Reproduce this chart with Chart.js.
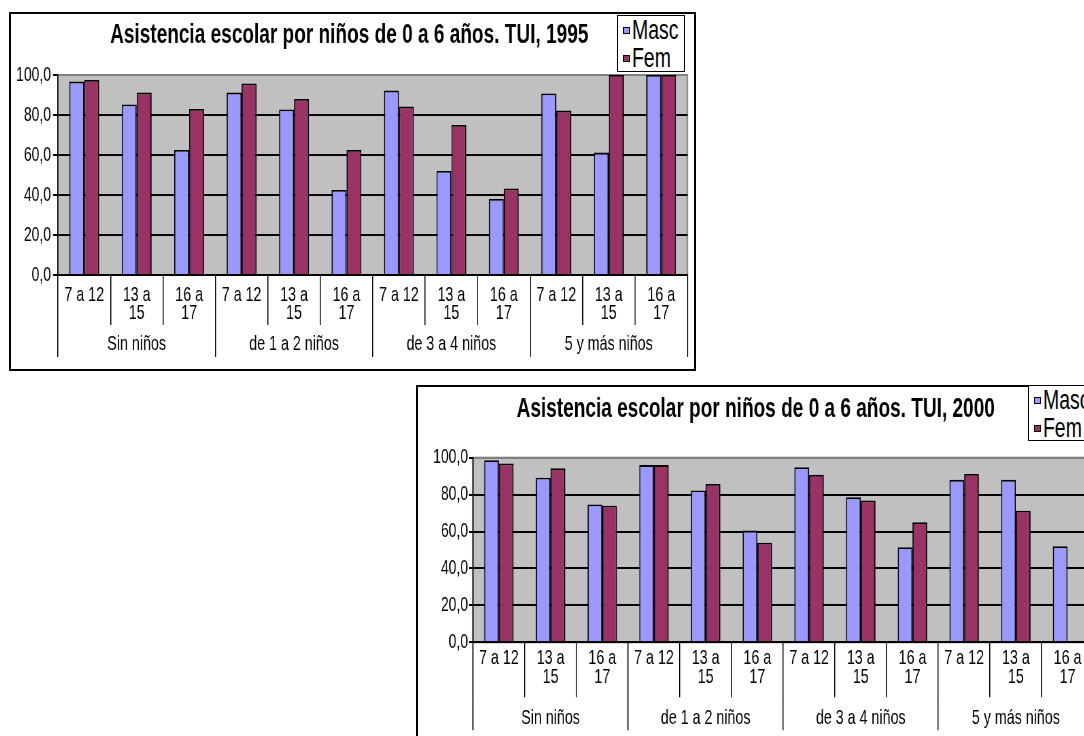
<!DOCTYPE html>
<html>
<head>
<meta charset="utf-8">
<script src="https://cdn.jsdelivr.net/npm/chart.js@4"></script>
<style>
  body { margin: 0; background: #fff; overflow: hidden; width: 1084px; height: 736px; position: relative; }
  .box { position: absolute; border: 2px solid #000; background: #fff; overflow: hidden; }
  .box canvas { display: block; transform: scaleX(0.68); transform-origin: 0 0; }
  .legend { position: absolute; border: 1.5px solid #000; background: #fff; overflow: hidden;
            font-family: 'Liberation Sans', Arial, sans-serif; font-size: 27px; color: #000; }
  .legend div { height: 28px; line-height: 28px; display: flex; align-items: center; padding-left: 5px; white-space: nowrap; }
  .legend span.sw { display: inline-block; flex: none; width: 5px; height: 5px; border: 1.2px solid #000; margin-right: 2px; }
  .legend span.tx { display: inline-block; transform: scaleX(0.72); transform-origin: 0 50%; }
</style>
</head>
<body>
<div class="box" style="left:9px; top:12px; width:683px; height:355px;"><canvas id="c1995" width="1005" height="355"></canvas></div>
<div class="legend" style="left:617px; top:15px; width:66px; height:55px;">
  <div><span class="sw" style="background:#9999FF"></span><span class="tx">Masc</span></div>
  <div><span class="sw" style="background:#993366"></span><span class="tx">Fem</span></div>
</div>

<div class="box" style="left:416px; top:385px; width:683px; height:365px;"><canvas id="c2000" width="1005" height="365"></canvas></div>
<div class="legend" style="left:1028px; top:385px; width:80px; height:54px;">
  <div><span class="sw" style="background:#9999FF"></span><span class="tx">Masc</span></div>
  <div><span class="sw" style="background:#993366"></span><span class="tx">Fem</span></div>
</div>

<script>
// categories
const ageLabels = [
  '7 a 12', ['13 a', '15'], ['16 a', '17'],
  '7 a 12', ['13 a', '15'], ['16 a', '17'],
  '7 a 12', ['13 a', '15'], ['16 a', '17'],
  '7 a 12', ['13 a', '15'], ['16 a', '17']
];
const groupLabels = ['Sin niños', 'de 1 a 2 niños', 'de 3 a 4 niños', '5 y más niños'];
const groupLabels2000 = ['Sin niños', 'de 1 a 2 niños', 'de 3 a 4 niños', '5 y más niños'];
const yTicks = [0, 20, 40, 60, 80, 100];

// 1995
const masc1995 = [96.7, 85.3, 62.5, 91.2, 82.8, 42.5, 92.2, 52.0, 38.0, 90.8, 61.2, 100.0];
const fem1995  = [97.5, 91.2, 83.0, 95.8, 88.0, 62.5, 84.2, 75.0, 43.3, 82.2, 100.0, 100.0];

// 2000
const masc2000 = [98.6, 89.2, 74.7, 96.0, 82.2, 60.5, 94.8, 78.6, 51.5, 88.0, 88.0, 52.0];
const fem2000  = [96.9, 94.3, 74.0, 96.0, 85.8, 53.9, 90.7, 76.8, 65.0, 91.2, 71.3, null];

// canvas is squeezed horizontally with CSS to get narrow text
const SX = 0.68;
const FONT = "'Liberation Sans', Arial, sans-serif";
Chart.defaults.color = '#000';
Chart.defaults.font.family = FONT;

// gray plot background + frame
const plotBg = {
  id: 'plotBg',
  beforeDraw(chart) {
    const { ctx, chartArea: a } = chart;
    ctx.save();
    ctx.fillStyle = '#C0C0C0';
    ctx.fillRect(a.left, a.top, a.right - a.left, a.bottom - a.top);
    ctx.strokeStyle = '#808080';
    ctx.lineWidth = 2;
    ctx.strokeRect(a.left, a.top, a.right - a.left, a.bottom - a.top);
    ctx.restore();
  }
};

function makeChart(id, title, masc, fem, groups, g) {
  return new Chart(document.getElementById(id), {
    type: 'bar',
    data: {
      labels: ageLabels,
      datasets: [
        { label: 'Masc', data: masc, backgroundColor: '#9999FF', borderColor: '#000', borderWidth: 1.8 },
        { label: 'Fem', data: fem, backgroundColor: '#993366', borderColor: '#000', borderWidth: 1.8 }
      ]
    },
    options: {
      responsive: false,
      animation: false,
      categoryPercentage: 0.57,
      barPercentage: 1.0,
      layout: { padding: { left: 0, right: g.padRight / SX, top: 0, bottom: g.padBottom } },
      plugins: {
        legend: { display: false },
        tooltip: { enabled: false },
        title: {
          display: true, text: title, color: '#000',
          font: { family: FONT, size: 28, weight: 'bold' },
          padding: { top: g.titleTop, bottom: g.titleBottom }
        }
      },
      scales: {
        y: {
          min: 0, max: 100,
          afterFit: s => { s.width = g.yWidth / SX; },
          afterBuildTicks: s => { s.ticks = yTicks.map(v => ({ value: v })); },
          ticks: {
            font: { size: 20.5 }, padding: g.yPad / SX,
            callback: v => v.toFixed(1).replace('.', ',')
          },
          grid: {
            color: c => (c.tick && c.tick.value === 100) ? '#808080' : '#000',
            tickColor: '#000', lineWidth: 2, tickLength: g.yTick / SX
          },
          border: { color: '#000', width: 1.5 }
        },
        x: {
          offset: true,
          afterFit: s => { s.height = g.xH; },
          ticks: {
            font: { size: 21, lineHeight: 0.87 }, autoSkip: false,
            maxRotation: 0, minRotation: 0, padding: g.xPad
          },
          grid: { offset: true, drawOnChartArea: false, color: '#000', lineWidth: 1.5, tickLength: g.xH },
          border: { color: '#000', width: 2 }
        },
        x2: {
          type: 'category', axis: 'x', position: 'bottom',
          labels: groups, offset: true,
          afterFit: s => { s.height = g.x2H; },
          ticks: { font: { size: 21 }, autoSkip: false, maxRotation: 0, minRotation: 0, padding: g.x2Pad },
          grid: { offset: true, drawOnChartArea: false, color: '#000', lineWidth: 1.5, tickLength: g.x2H },
          border: { display: false }
        }
      }
    },
    plugins: [plotBg]
  });
}

makeChart('c1995', 'Asistencia escolar por niños de 0 a 6 años. TUI, 1995', masc1995, fem1995, groupLabels, {
  padRight: 7, padBottom: 12, titleTop: 4.9, titleBottom: 22.5,
  yWidth: 47, yPad: 2, yTick: 5,
  xH: 50, xPad: -39, x2H: 32, x2Pad: -25
});

makeChart('c2000', 'Asistencia escolar por niños de 0 a 6 años. TUI, 2000', masc2000, fem2000, groupLabels2000, {
  padRight: 8, padBottom: 21.7, titleTop: 5.1, titleBottom: 32,
  yWidth: 55, yPad: 1, yTick: 4,
  xH: 55, xPad: -48, x2H: 33, x2Pad: -25
});
</script>
</body>
</html>
